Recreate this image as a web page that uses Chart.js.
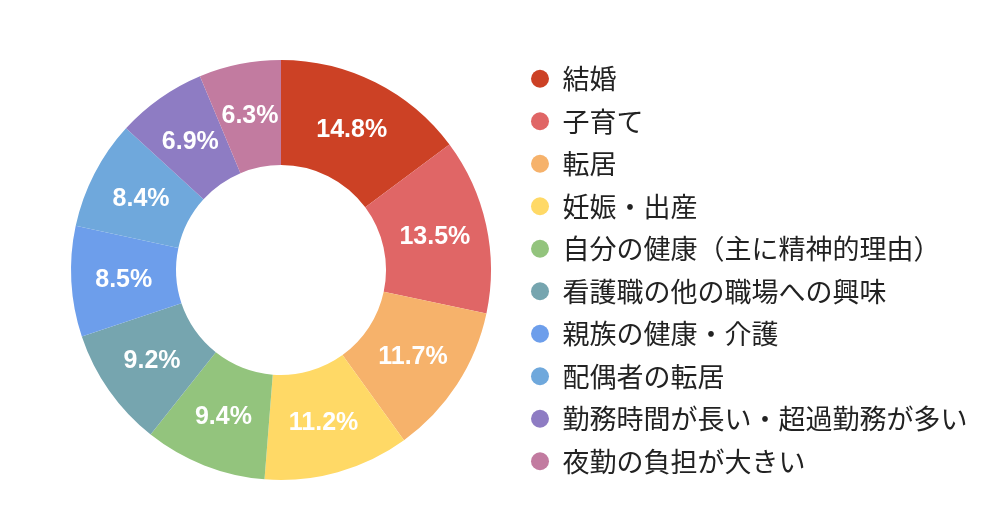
<!DOCTYPE html>
<html>
<head>
<meta charset="utf-8">
<script src="https://cdn.jsdelivr.net/npm/chart.js@4"></script>
<style>
  html, body { margin: 0; padding: 0; background: #fff; }
  #wrap { width: 999px; height: 506px; }
</style>
</head>
<body>
<div id="wrap"><canvas id="leaveChart"></canvas></div>
<script>
// reasons for leaving (percent)
var labels = ['結婚', '子育て', '転居', '妊娠・出産', '自分の健康（主に精神的理由）',
  '看護職の他の職場への興味', '親族の健康・介護', '配偶者の転居',
  '勤務時間が長い・超過勤務が多い', '夜勤の負担が大きい'];
var values = [14.8, 13.5, 11.7, 11.2, 9.4, 9.2, 8.5, 8.4, 6.9, 6.3];
var colors = ['#cc4125', '#e06666', '#f6b26b', '#ffd966', '#93c47d',
  '#76a5af', '#6d9eeb', '#6fa8dc', '#8e7cc3', '#c27ba0'];

// white percentage text in the middle of each slice
var sliceLabels = {
  id: 'sliceLabels',
  afterDatasetsDraw: function(chart) {
    var ctx = chart.ctx;
    var meta = chart.getDatasetMeta(0);
    ctx.save();
    ctx.font = 'bold 25px "Liberation Sans", Arial, sans-serif';
    ctx.fillStyle = '#fff';
    ctx.textAlign = 'center';
    ctx.textBaseline = 'middle';
    meta.data.forEach(function(arc, i) {
      var p = arc.getCenterPoint();
      ctx.fillText(values[i].toFixed(1) + '%', p.x, p.y + 1);
    });
    ctx.restore();
  }
};

// keep the legend at a fixed width so it starts where the original does
var legendWidth = {
  id: 'legendWidth',
  beforeLayout: function(chart) {
    var lg = chart.legend;
    if (lg && !lg._fixedFit) {
      var fit = lg.fit;
      lg.fit = function() {
        fit.call(this);
        this.width = 483.5;
      };
      lg._fixedFit = true;
    }
  }
};

var ctx = document.getElementById('leaveChart').getContext('2d');
var chart = new Chart(ctx, {
  type: 'doughnut',
  data: {
    labels: labels,
    datasets: [{
      data: values,
      backgroundColor: colors,
      borderWidth: 0,
      radius: 210
    }]
  },
  options: {
    responsive: true,
    maintainAspectRatio: false,
    animation: false,
    cutout: '50%',
    layout: { padding: { top: 34, bottom: 0, left: 46.5, right: 0 } },
    plugins: {
      tooltip: { enabled: false },
      legend: {
        position: 'right',
        align: 'center',
        labels: {
          usePointStyle: true,
          pointStyle: 'circle',
          pointStyleWidth: 18,
          boxHeight: 12.73,
          padding: 15.5,
          color: '#222',
          font: { family: '"Noto Sans CJK JP", sans-serif', size: 27 }
        }
      }
    }
  },
  plugins: [sliceLabels, legendWidth]
});
</script>
</body>
</html>
